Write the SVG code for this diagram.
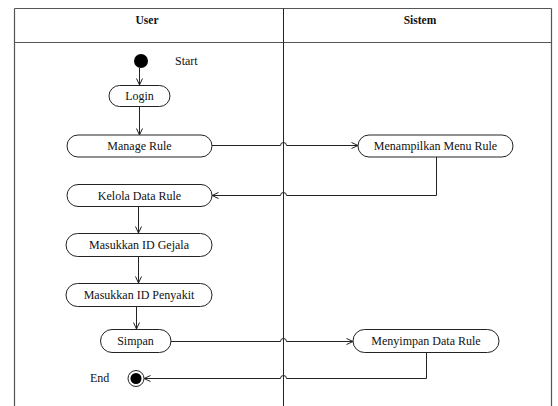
<svg xmlns="http://www.w3.org/2000/svg" width="558" height="406" viewBox="0 0 558 406" font-family="'Liberation Serif', 'DejaVu Serif', serif">
  <style>
    text { font-family: 'Liberation Serif', 'Times New Roman', 'DejaVu Serif', serif; font-size: 12px; fill: #111; }
    .hdr { font-weight: bold; font-size: 11.5px; }
    .lane { fill: none; stroke: #555; stroke-width: 1.2; }
    .act { fill: #fff; stroke: #222; stroke-width: 1; }
    .flow { fill: none; stroke: #222; stroke-width: 1; }
  </style>
  <defs>
    <marker id="arrow" viewBox="0 0 8 8" refX="7.5" refY="4" markerWidth="8" markerHeight="8" orient="auto" markerUnits="userSpaceOnUse">
      <path d="M1,1 L7.5,4 L1,7" fill="none" stroke="#222" stroke-width="1"/>
    </marker>
  </defs>

  <!-- swimlane frame -->
  <g id="lanes">
    <line class="lane" x1="14.5" y1="8.5" x2="14.5" y2="406"/>
    <line class="lane" x1="551.5" y1="8.5" x2="551.5" y2="406" stroke="#222"/>
    <line class="lane" x1="14.5" y1="8.5" x2="551.5" y2="8.5" stroke="#333"/>
    <line class="lane" x1="14.5" y1="42.5" x2="551.5" y2="42.5"/>
    <line x1="283.5" y1="8.5" x2="283.5" y2="406" stroke="#222" stroke-width="1"/>
    <text class="hdr" x="147" y="24" text-anchor="middle">User</text>
    <text class="hdr" x="420" y="24" text-anchor="middle">Sistem</text>
  </g>

  <!-- connectors -->
  <g id="connectors">
    <line class="flow" x1="139.5" y1="68" x2="139.5" y2="85" marker-end="url(#arrow)"/>
    <line class="flow" x1="139.5" y1="107" x2="139.5" y2="135" marker-end="url(#arrow)"/>
    <path class="flow" d="M212,145.5 H280.5 A3,3 0 0 1 286.5,145.5 H358" marker-end="url(#arrow)"/>
    <path class="flow" d="M436.5,157 V195.5 H286.5 A3,3 0 0 0 280.5,195.5 H212" marker-end="url(#arrow)"/>
    <line class="flow" x1="138.5" y1="206" x2="138.5" y2="233" marker-end="url(#arrow)"/>
    <line class="flow" x1="138.5" y1="256" x2="138.5" y2="283" marker-end="url(#arrow)"/>
    <line class="flow" x1="136.5" y1="306" x2="136.5" y2="329" marker-end="url(#arrow)"/>
    <path class="flow" d="M171,341.5 H280.5 A3,3 0 0 1 286.5,341.5 H353" marker-end="url(#arrow)"/>
    <path class="flow" d="M426.5,353 V378.5 H286.5 A3,3 0 0 0 280.5,378.5 H144" marker-end="url(#arrow)"/>
  </g>

  <g id="start">
    <circle cx="141" cy="61" r="7" fill="#000"/>
    <text x="175" y="65">Start</text>
  </g>
  <g id="login">
    <rect class="act" x="109" y="85.5" width="61" height="21" rx="10.5"/>
    <text x="139.5" y="100" text-anchor="middle">Login</text>
  </g>
  <g id="manage-rule">
    <rect class="act" x="67" y="135" width="145" height="22" rx="11"/>
    <text x="139.5" y="150" text-anchor="middle">Manage Rule</text>
  </g>
  <g id="menampilkan-menu-rule">
    <rect class="act" x="358" y="135" width="155" height="22" rx="11"/>
    <text x="435.5" y="150" text-anchor="middle">Menampilkan Menu Rule</text>
  </g>
  <g id="kelola-data-rule">
    <rect class="act" x="67" y="184.5" width="145" height="22" rx="11"/>
    <text x="139.5" y="199.5" text-anchor="middle">Kelola Data Rule</text>
  </g>
  <g id="masukkan-id-gejala">
    <rect class="act" x="66" y="233.5" width="146" height="23" rx="11.5"/>
    <text x="139" y="249" text-anchor="middle">Masukkan ID Gejala</text>
  </g>
  <g id="masukkan-id-penyakit">
    <rect class="act" x="66" y="283.5" width="146" height="23" rx="11.5"/>
    <text x="139" y="299" text-anchor="middle">Masukkan ID Penyakit</text>
  </g>
  <g id="simpan">
    <rect class="act" x="100.5" y="329.5" width="70.5" height="23" rx="11.5"/>
    <text x="135.5" y="345" text-anchor="middle">Simpan</text>
  </g>
  <g id="menyimpan-data-rule">
    <rect class="act" x="353" y="329.5" width="146" height="23" rx="11.5"/>
    <text x="426" y="345" text-anchor="middle">Menyimpan Data Rule</text>
  </g>
  <g id="end">
    <circle cx="136" cy="378.5" r="8" fill="#fff" stroke="#222" stroke-width="1"/>
    <circle cx="136" cy="378.5" r="5.5" fill="#000"/>
    <text x="90" y="382">End</text>
  </g>
</svg>
